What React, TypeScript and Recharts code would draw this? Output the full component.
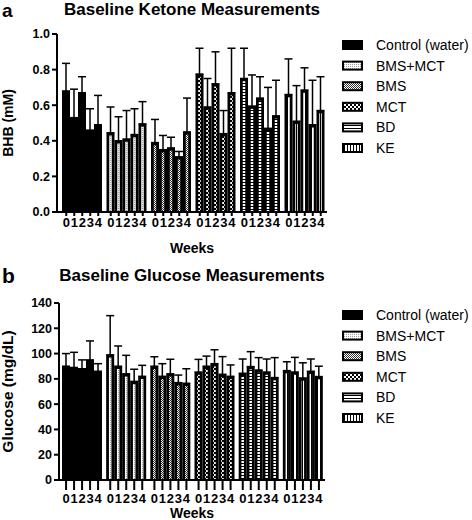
import React from 'react';
import { BarChart, Bar, XAxis, YAxis, ErrorBar } from 'recharts';

const FONT = '"Liberation Sans", Arial, Helvetica, sans-serif';

const groups = ['Control (water)', 'BMS+MCT', 'BMS', 'MCT', 'BD', 'KE'];
const weeks = ['0', '1', '2', '3', '4'];

// one row per group, weeks 0..4
const ketoneMean = [
  [0.68, 0.53, 0.67, 0.46, 0.49],
  [0.445, 0.4, 0.41, 0.435, 0.495],
  [0.39, 0.35, 0.36, 0.31, 0.45],
  [0.775, 0.59, 0.72, 0.44, 0.67],
  [0.75, 0.595, 0.64, 0.47, 0.54],
  [0.66, 0.51, 0.685, 0.49, 0.57],
];
const ketoneErr = [
  [0.155, 0.16, 0.09, 0.12, 0.165],
  [0.145, 0.135, 0.16, 0.145, 0.125],
  [0.13, 0.08, 0.06, 0.03, 0.19],
  [0.145, 0.16, 0.18, 0.13, 0.25],
  [0.17, 0.175, 0.12, 0.23, 0.2],
  [0.2, 0.2, 0.125, 0.25, 0.19],
];
const glucoseMean = [
  [90, 89, 88, 95, 86],
  [99, 90, 84, 78, 82],
  [90, 82, 84, 77, 76.5],
  [85.4, 90, 92, 83.6, 82],
  [84.4, 89.7, 87, 85.4, 81],
  [86.5, 85.4, 80.7, 86, 81.8],
];
const glucoseErr = [
  [10, 12, 7, 15, 6],
  [31, 16, 14.6, 9.6, 8.7],
  [7.5, 10, 11.5, 6, 11.5],
  [10, 8, 11, 14, 9],
  [11.3, 11.8, 9.8, 10.3, 15.8],
  [7, 11.6, 12, 9.7, 8.2],
];
const ketoneTicks = [0, 0.2, 0.4, 0.6, 0.8, 1.0];
const glucoseTicks = [0, 20, 40, 60, 80, 100, 120, 140];

// pattern id per group ('' = solid black)
const patterns = ['', 'pBmsMct', 'pBms', 'pMct', 'pBd', 'pKe'];
const BAR_SIZE = 8;
const INSET = 2.75;

function buildRows(mean: number[][], err: number[][]) {
  return groups.map((g, gi) => {
    const row: any = { group: g, gi };
    weeks.forEach((_, wi) => {
      row['w' + wi] = mean[gi][wi];
      row['e' + wi] = [0, err[gi][wi]];
    });
    return row;
  });
}

const ketoneRows = buildRows(ketoneMean, ketoneErr);
const glucoseRows = buildRows(glucoseMean, glucoseErr);

const BarShape = (props: any) => {
  const { x, y, width, height, payload } = props;
  if (!height || height <= 0) return null;
  const pat = patterns[payload.gi];
  return (
    <g>
      <rect x={x} y={y} width={width} height={height} fill="#000" />
      {pat && (
        <rect
          x={x + INSET}
          y={y + INSET}
          width={width - 2 * INSET}
          height={Math.max(0, height - INSET)}
          fill={`url(#${pat})`}
        />
      )}
    </g>
  );
};

const makeWeekTick = (tickLen: number, labelDy: number) => (props: any) => {
  const { x, y } = props;
  return (
    <g>
      {weeks.map((w, wi) => {
        const cx = x + (wi - 2) * BAR_SIZE;
        return (
          <g key={wi}>
            <line x1={cx} x2={cx} y1={y} y2={y + tickLen} stroke="#000" strokeWidth={2} />
            <text
              x={cx}
              y={y + labelDy}
              textAnchor="middle"
              fontFamily={FONT}
              fontWeight="bold"
              fontSize={13}
              fill="#000"
            >
              {w}
            </text>
          </g>
        );
      })}
    </g>
  );
};

const makeYLabel = (text: string, size: number) => (props: any) => {
  const vb = props.viewBox || {};
  const cy = (vb.y || 0) + (vb.height || 0) / 2;
  const cx = 13;
  return (
    <text
      x={cx}
      y={cy}
      transform={`rotate(-90, ${cx}, ${cy})`}
      textAnchor="middle"
      fontFamily={FONT}
      fontWeight="bold"
      fontSize={size}
      fill="#000"
    >
      {text}
    </text>
  );
};

const axisLine = { stroke: '#000', strokeWidth: 2 };
const tickStyle = { fill: '#000', fontSize: 12.5, fontWeight: 'bold', fontFamily: FONT };

function Panel(props: {
  rows: any[];
  ticks: number[];
  yLabel: string;
  yLabelSize: number;
  yWidth: number;
  margin: any;
  xHeight: number;
  padLeft: number;
  tickLen: number;
  labelDy: number;
  fmt: (v: number) => string;
}) {
  const { rows, ticks, yLabel, yLabelSize, yWidth, margin, xHeight, padLeft, tickLen, labelDy, fmt } = props;
  return (
    <BarChart width={472} height={260} data={rows} margin={margin} barGap={0} barSize={BAR_SIZE}>
      <XAxis
        dataKey="group"
        interval={0}
        height={xHeight}
        tickLine={false}
        tickSize={0}
        tickMargin={0}
        axisLine={axisLine}
        padding={{ left: padLeft, right: 0 }}
        tick={makeWeekTick(tickLen, labelDy)}
        label={{
          value: 'Weeks',
          position: 'insideBottom',
          offset: 0,
          fill: '#000',
          fontSize: 14,
          fontWeight: 'bold',
          fontFamily: FONT,
        }}
      />
      <YAxis
        width={yWidth}
        domain={[ticks[0], ticks[ticks.length - 1]]}
        ticks={ticks}
        interval={0}
        tickSize={5}
        tickMargin={2}
        tickLine={axisLine}
        axisLine={axisLine}
        tick={tickStyle}
        tickFormatter={fmt}
        label={makeYLabel(yLabel, yLabelSize)}
      />
      {weeks.map((_, wi) => (
        <Bar key={wi} dataKey={'w' + wi} shape={BarShape} isAnimationActive={false}>
          <ErrorBar dataKey={'e' + wi} direction="y" width={4} strokeWidth={1.5} stroke="#000" />
        </Bar>
      ))}
    </BarChart>
  );
}

function LegendBlock({ top }: { top: number }) {
  return (
    <g>
      {groups.map((g, gi) => {
        const cy = top + gi * 20.6;
        const pat = patterns[gi];
        return (
          <g key={g}>
            <rect x={342} y={cy - 5} width={21} height={10} fill="#000" />
            {pat && <rect x={344} y={cy - 3} width={17} height={6} fill={`url(#${pat})`} />}
            <text x={376} y={cy + 5} fontFamily={FONT} fontSize={14} fill="#000">
              {g}
            </text>
          </g>
        );
      })}
    </g>
  );
}

export default function App() {
  return (
    <div style={{ position: 'absolute', left: 0, top: 0, width: 472, height: 520, background: '#fff' }}>
      <div style={{ position: 'absolute', left: 0, top: 0 }}>
        <Panel
          rows={ketoneRows}
          ticks={ketoneTicks}
          yLabel="BHB (mM)"
          yLabelSize={14}
          yWidth={57}
          margin={{ top: 34, right: 145, left: 0, bottom: 7 }}
          xHeight={41}
          padLeft={3}
          tickLen={4}
          labelDy={15}
          fmt={(v) => v.toFixed(1)}
        />
      </div>
      <div style={{ position: 'absolute', left: 0, top: 260 }}>
        <Panel
          rows={glucoseRows}
          ticks={glucoseTicks}
          yLabel="Glucose (mg/dL)"
          yLabelSize={15.5}
          yWidth={59}
          margin={{ top: 43, right: 147, left: 0, bottom: 2 }}
          xHeight={38}
          padLeft={1}
          tickLen={10}
          labelDy={23}
          fmt={(v) => String(v)}
        />
      </div>
      <svg
        width={472}
        height={520}
        style={{ position: 'absolute', left: 0, top: 0, pointerEvents: 'none' }}
      >
        <defs>
          <pattern id="pBmsMct" width={2} height={2} patternUnits="userSpaceOnUse">
            <rect width={2} height={2} fill="#fff" />
            <rect width={1} height={1} fill="#999" />
          </pattern>
          <pattern id="pBms" width={2} height={2} patternUnits="userSpaceOnUse">
            <rect width={2} height={2} fill="#fff" />
            <rect width={1} height={1} fill="#333" />
            <rect x={1} y={1} width={1} height={1} fill="#333" />
          </pattern>
          <pattern id="pMct" width={4} height={4} patternUnits="userSpaceOnUse">
            <rect width={4} height={4} fill="#000" />
            <rect width={2} height={2} fill="#fff" />
            <rect x={2} y={2} width={2} height={2} fill="#fff" />
          </pattern>
          <pattern id="pBd" width={3} height={3} patternUnits="userSpaceOnUse">
            <rect width={3} height={3} fill="#fff" />
            <rect y={2} width={3} height={1} fill="#000" />
          </pattern>
          <pattern id="pKe" width={3} height={3} patternUnits="userSpaceOnUse">
            <rect width={3} height={3} fill="#fff" />
            <rect x={2} width={1} height={3} fill="#000" />
          </pattern>
        </defs>
        <text x={2} y={17} fontFamily={FONT} fontWeight="bold" fontSize={19} fill="#000">
          a
        </text>
        <text x={192} y={15} textAnchor="middle" fontFamily={FONT} fontWeight="bold" fontSize={17} fill="#000">
          Baseline Ketone Measurements
        </text>
        <text x={2} y={283} fontFamily={FONT} fontWeight="bold" fontSize={21} fill="#000">
          b
        </text>
        <text x={192} y={281} textAnchor="middle" fontFamily={FONT} fontWeight="bold" fontSize={17} fill="#000">
          Baseline Glucose Measurements
        </text>
        <LegendBlock top={45} />
        <LegendBlock top={315} />
      </svg>
    </div>
  );
}
